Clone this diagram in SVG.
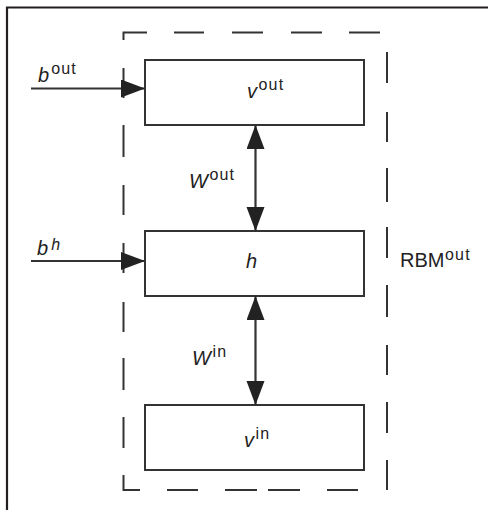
<svg xmlns="http://www.w3.org/2000/svg" width="488" height="510" viewBox="0 0 488 510">
  <defs>
    <style>
      .frame { stroke: #231f20; stroke-width: 2.2; fill: none; }
      .dash { stroke: #333; stroke-width: 2; fill: none; }
      .box { stroke: #333; stroke-width: 2; fill: #fff; }
      .edge { stroke: #333; stroke-width: 2.2; fill: none; }
      .lbl { font-family: "Liberation Sans", Arial, sans-serif; font-size: 20px; fill: #222; }
      .sup { font-size: 16px; letter-spacing: 1.2px; font-style: normal; }
      .it { font-style: italic; }
    </style>
    <marker id="arrow" markerUnits="userSpaceOnUse" markerWidth="26" markerHeight="20" refX="24" refY="9" orient="auto-start-reverse">
      <path d="M0,0 L24,9 L0,18 z" fill="#222"/>
    </marker>
  </defs>

  <rect width="488" height="510" fill="#fff"/>

  <!-- outer frame: top and left edges -->
  <path class="frame" d="M7,510 V7.5 H488"/>

  <!-- dashed RBM boundary -->
  <g id="rbm-boundary" class="dash">
    <path d="M123.5,40 V32.5 H147 M174,32.5 H204 M232,32.5 H263 M291,32.5 H322 M349,32.5 H380"/>
    <path d="M123.5,68 V98 M123.5,125 V157 M123.5,185 V215 M123.5,243 V273 M123.5,302 V332 M123.5,358 V390 M123.5,417 V448 M123.5,475 V490 H140"/>
    <path d="M387,52 V83 M387,112 V142 M387,168 V202 M387,227 V258 M387,285 V317 M387,345 V375 M387,402 V433 M387,460 V490"/>
    <path d="M167,490 H198 M225,490 H257 M268,490 H300 M327,490 H358"/>
  </g>

  <!-- layer nodes -->
  <g id="node-vout">
    <rect class="box" x="145" y="60" width="219" height="65"/>
    <text class="lbl" x="247" y="98"><tspan class="it">v</tspan><tspan class="sup" dx="1.5" dy="-8">out</tspan></text>
  </g>
  <g id="node-h">
    <rect class="box" x="145" y="231" width="219" height="65"/>
    <text class="lbl it" x="246" y="268">h</text>
  </g>
  <g id="node-vin">
    <rect class="box" x="145" y="405" width="219" height="65"/>
    <text class="lbl" x="244" y="447"><tspan class="it">v</tspan><tspan class="sup" dx="1.5" dy="-8">in</tspan></text>
  </g>

  <!-- connectors -->
  <g id="connectors" class="edge">
    <line x1="31" y1="88.5" x2="145" y2="88.5" marker-end="url(#arrow)"/>
    <line x1="31" y1="261" x2="145" y2="261" marker-end="url(#arrow)"/>
    <line x1="255.5" y1="125" x2="255.5" y2="231" marker-start="url(#arrow)" marker-end="url(#arrow)"/>
    <line x1="255.5" y1="296" x2="255.5" y2="405" marker-start="url(#arrow)" marker-end="url(#arrow)"/>
  </g>

  <!-- labels -->
  <g id="labels">
    <text class="lbl" x="38" y="81.5"><tspan class="it">b</tspan><tspan class="sup" dx="2" dy="-8">out</tspan></text>
    <text class="lbl" x="37" y="255"><tspan class="it">b</tspan><tspan class="sup" style="font-style:italic" dx="3" dy="-5">h</tspan></text>
    <text class="lbl" x="189" y="188"><tspan class="it">W</tspan><tspan class="sup" dx="1.5" dy="-8">out</tspan></text>
    <text class="lbl" x="192" y="365"><tspan class="it">W</tspan><tspan class="sup" dx="1.5" dy="-8">in</tspan></text>
    <text class="lbl" x="400" y="267">RBM<tspan class="sup" dx="0.5" dy="-7">out</tspan></text>
  </g>
</svg>
